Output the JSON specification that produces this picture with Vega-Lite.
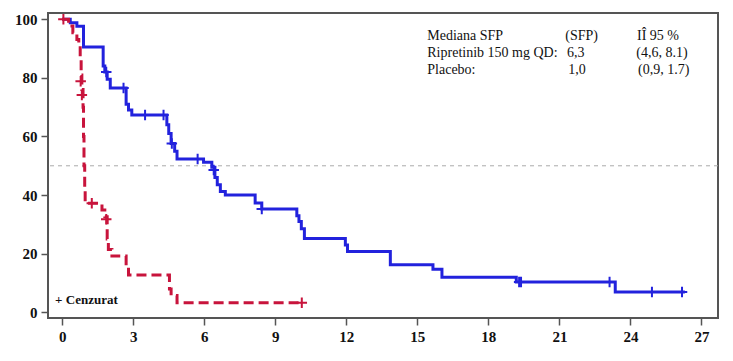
{
  "$schema": "https://vega.github.io/schema/vega-lite/v6.json",
  "width": 670,
  "height": 305,
  "autosize": {"type": "none"},
  "padding": {"left": 48, "top": 13, "right": 15, "bottom": 43},
  "background": "white",
  "config": {
    "view": {"stroke": "#555555", "strokeWidth": 2},
    "axis": {"grid": false, "domain": false, "tickColor": "#555555", "tickWidth": 1.5, "tickSize": 7, "labelFont": "Liberation Serif", "labelFontWeight": "bold", "labelFontSize": 15, "labelColor": "#111111", "labelPadding": 4, "title": null}
  },
  "datasets": {
    "km": [
      {"group": "Ripretinib", "t": 0, "s": 100},
      {"group": "Ripretinib", "t": 0.34, "s": 98.8},
      {"group": "Ripretinib", "t": 0.62, "s": 97.6},
      {"group": "Ripretinib", "t": 0.9, "s": 90.5},
      {"group": "Ripretinib", "t": 1.73, "s": 84},
      {"group": "Ripretinib", "t": 1.8, "s": 82},
      {"group": "Ripretinib", "t": 1.9, "s": 79.5},
      {"group": "Ripretinib", "t": 2.03, "s": 76.5},
      {"group": "Ripretinib", "t": 2.7, "s": 71},
      {"group": "Ripretinib", "t": 2.8, "s": 69},
      {"group": "Ripretinib", "t": 2.94, "s": 67.3},
      {"group": "Ripretinib", "t": 4.42, "s": 64},
      {"group": "Ripretinib", "t": 4.5, "s": 61},
      {"group": "Ripretinib", "t": 4.6, "s": 57.6},
      {"group": "Ripretinib", "t": 4.75, "s": 55},
      {"group": "Ripretinib", "t": 4.85, "s": 52.3},
      {"group": "Ripretinib", "t": 5.97, "s": 51.2},
      {"group": "Ripretinib", "t": 6.32, "s": 49.5},
      {"group": "Ripretinib", "t": 6.45, "s": 46},
      {"group": "Ripretinib", "t": 6.55, "s": 43.5},
      {"group": "Ripretinib", "t": 6.68, "s": 41.2},
      {"group": "Ripretinib", "t": 6.89, "s": 40},
      {"group": "Ripretinib", "t": 8.15, "s": 37.3},
      {"group": "Ripretinib", "t": 8.43, "s": 35.3},
      {"group": "Ripretinib", "t": 9.91, "s": 33},
      {"group": "Ripretinib", "t": 10.0, "s": 31},
      {"group": "Ripretinib", "t": 10.1, "s": 28.5},
      {"group": "Ripretinib", "t": 10.23, "s": 25.2},
      {"group": "Ripretinib", "t": 11.96, "s": 23},
      {"group": "Ripretinib", "t": 12.05, "s": 20.8},
      {"group": "Ripretinib", "t": 13.86, "s": 16.3},
      {"group": "Ripretinib", "t": 15.66, "s": 14.7},
      {"group": "Ripretinib", "t": 16.04, "s": 12},
      {"group": "Ripretinib", "t": 19.18, "s": 10.4},
      {"group": "Ripretinib", "t": 23.36, "s": 7},
      {"group": "Ripretinib", "t": 26.3, "s": 7},
      {"group": "Placebo", "t": 0, "s": 100},
      {"group": "Placebo", "t": 0.27, "s": 97.7},
      {"group": "Placebo", "t": 0.45, "s": 95.4},
      {"group": "Placebo", "t": 0.62, "s": 93.1},
      {"group": "Placebo", "t": 0.7, "s": 90.8},
      {"group": "Placebo", "t": 0.76, "s": 86},
      {"group": "Placebo", "t": 0.8, "s": 81},
      {"group": "Placebo", "t": 0.83, "s": 76},
      {"group": "Placebo", "t": 0.88, "s": 70},
      {"group": "Placebo", "t": 0.9, "s": 60},
      {"group": "Placebo", "t": 0.92, "s": 50},
      {"group": "Placebo", "t": 0.95, "s": 42},
      {"group": "Placebo", "t": 0.97, "s": 37.2},
      {"group": "Placebo", "t": 1.68, "s": 34.9},
      {"group": "Placebo", "t": 1.8, "s": 32.6},
      {"group": "Placebo", "t": 1.9, "s": 25},
      {"group": "Placebo", "t": 1.95, "s": 21.5},
      {"group": "Placebo", "t": 2.1, "s": 19.2},
      {"group": "Placebo", "t": 2.7, "s": 16},
      {"group": "Placebo", "t": 2.8, "s": 12.8},
      {"group": "Placebo", "t": 4.53, "s": 8},
      {"group": "Placebo", "t": 4.6, "s": 5.8},
      {"group": "Placebo", "t": 4.85, "s": 3.3},
      {"group": "Placebo", "t": 10.12, "s": 3.3}
    ],
    "censor": [
      {"group": "Placebo", "t": 0.05, "s": 100},
      {"group": "Placebo", "t": 0.78, "s": 78.8},
      {"group": "Placebo", "t": 0.83, "s": 74.1},
      {"group": "Placebo", "t": 1.25, "s": 37.2},
      {"group": "Placebo", "t": 1.86, "s": 31.8},
      {"group": "Placebo", "t": 10.12, "s": 3.3},
      {"group": "Ripretinib", "t": 1.86, "s": 82},
      {"group": "Ripretinib", "t": 2.59, "s": 76.5},
      {"group": "Ripretinib", "t": 3.5, "s": 67.3},
      {"group": "Ripretinib", "t": 4.28, "s": 67.3},
      {"group": "Ripretinib", "t": 4.63, "s": 57.6},
      {"group": "Ripretinib", "t": 5.72, "s": 52.3},
      {"group": "Ripretinib", "t": 6.4, "s": 48.6},
      {"group": "Ripretinib", "t": 8.43, "s": 35.3},
      {"group": "Ripretinib", "t": 19.3, "s": 10.4},
      {"group": "Ripretinib", "t": 19.38, "s": 10.4},
      {"group": "Ripretinib", "t": 23.12, "s": 10.4},
      {"group": "Ripretinib", "t": 24.91, "s": 7},
      {"group": "Ripretinib", "t": 26.18, "s": 7}
    ],
    "legend": [
      {"t": 15.42, "s": 94.2, "label": "Mediana SFP"},
      {"t": 21.25, "s": 94.2, "label": "(SFP)"},
      {"t": 24.28, "s": 94.2, "label": "IÎ 95 %"},
      {"t": 15.42, "s": 88.4, "label": "Ripretinib 150 mg QD:"},
      {"t": 21.32, "s": 88.4, "label": "6,3"},
      {"t": 24.25, "s": 88.4, "label": "(4,6, 8.1)"},
      {"t": 15.42, "s": 82.5, "label": "Placebo:"},
      {"t": 21.38, "s": 82.5, "label": "1,0"},
      {"t": 24.32, "s": 82.5, "label": "(0,9, 1.7)"}
    ]
  },
  "layer": [
    {
      "data": {"values": [{"y": 50}]},
      "mark": {"type": "rule", "color": "#aaaaaa", "strokeWidth": 1, "strokeDash": [4, 4]},
      "encoding": {"y": {"field": "y", "type": "quantitative", "scale": {"domain": [-1.9, 102.1], "nice": false, "zero": false}}}
    },
    {
      "data": {"name": "km"},
      "mark": {"type": "line", "interpolate": "step-after", "strokeWidth": 3},
      "encoding": {
        "x": {"field": "t", "type": "quantitative", "scale": {"domain": [-0.6, 27.7], "nice": false, "zero": false}, "axis": {"values": [0, 3, 6, 9, 12, 15, 18, 21, 24, 27], "format": "d"}},
        "y": {"field": "s", "type": "quantitative", "scale": {"domain": [-1.9, 102.1], "nice": false, "zero": false}, "axis": {"values": [0, 20, 40, 60, 80, 100], "format": "d"}},
        "color": {"field": "group", "type": "nominal", "scale": {"domain": ["Ripretinib", "Placebo"], "range": ["#2222dd", "#c8143c"]}, "legend": null},
        "strokeDash": {"field": "group", "type": "nominal", "scale": {"domain": ["Ripretinib", "Placebo"], "range": [[1, 0], [10, 5]]}, "legend": null}
      }
    },
    {
      "data": {"name": "censor"},
      "mark": {"type": "point", "shape": "M-1,0H1M0,-1V1", "filled": false, "strokeWidth": 2, "size": 110, "opacity": 1},
      "encoding": {
        "x": {"field": "t", "type": "quantitative"},
        "y": {"field": "s", "type": "quantitative"},
        "color": {"field": "group", "type": "nominal", "legend": null}
      }
    },
    {
      "data": {"name": "legend"},
      "mark": {"type": "text", "align": "left", "baseline": "middle", "font": "Liberation Serif", "fontSize": 14, "color": "#111111"},
      "encoding": {
        "x": {"field": "t", "type": "quantitative"},
        "y": {"field": "s", "type": "quantitative"},
        "text": {"field": "label"}
      }
    },
    {
      "data": {"values": [{"t": -0.3, "s": 4.3, "label": "+ Cenzurat"}]},
      "mark": {"type": "text", "align": "left", "baseline": "middle", "font": "Liberation Serif", "fontSize": 13, "fontWeight": "bold", "color": "#111111"},
      "encoding": {
        "x": {"field": "t", "type": "quantitative"},
        "y": {"field": "s", "type": "quantitative"},
        "text": {"field": "label"}
      }
    }
  ]
}
